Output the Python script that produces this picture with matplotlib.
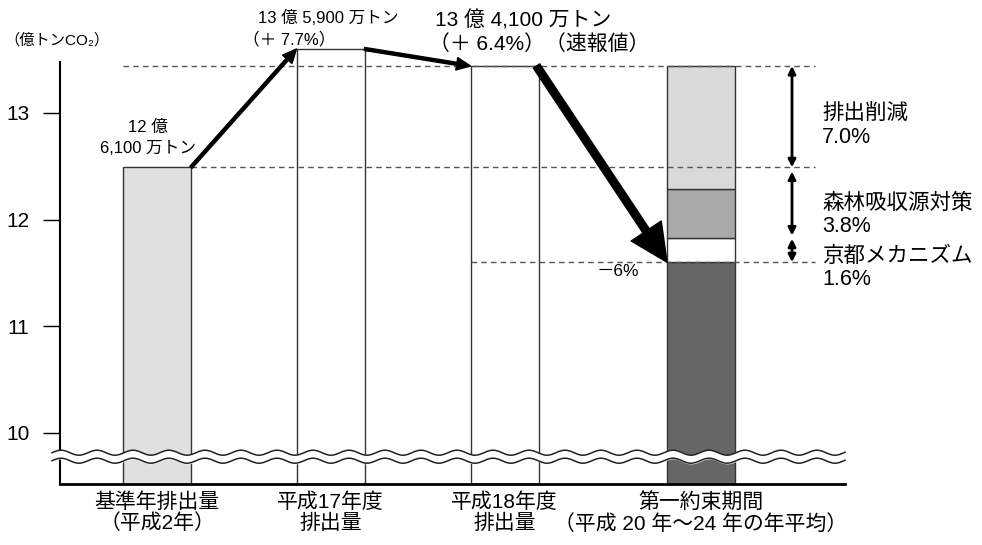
import numpy as np
import matplotlib
matplotlib.use('Agg')
import matplotlib.pyplot as plt

# Latin glyphs from Liberation Sans, Japanese from Noto Sans CJK
plt.rcParams['font.family'] = ['Liberation Sans', 'Noto Sans CJK JP', 'DejaVu Sans']

# data (億トンCO2, as drawn in the schematic)
categories = ['基準年排出量\n（平成2年）', '平成17年度\n排出量', '平成18年度\n排出量',
              '第一約束期間\n（平成 20 年～24 年の年平均）']
emissions = [12.49, 13.60, 13.44]
bar_colors = ['#e0e0e0', 'white', 'white']
# stacked target bar: 目標 / 京都メカニズム / 森林吸収源対策 / 排出削減
target_segments = [11.60, 0.23, 0.46, 1.15]
target_colors = ['#666666', 'white', '#a9a9a9', '#d9d9d9']
segment_labels = [None, '京都メカニズム\n1.6%', '森林吸収源対策\n3.8%', '排出削減\n7.0%']
yticks = [10, 11, 12, 13]

# layout (x in pixels of the 982 px wide figure)
bar_x = [157, 330.5, 504.5, 701]
bar_w = 68
y_floor = 9.52


def py2v(py):
    # figure pixel row -> value on y axis
    return 13 - (py - 113) / 106.7


fig = plt.figure(figsize=(9.82, 5.45), dpi=100)
ax = fig.add_axes([60 / 982, 61 / 545, 785 / 982, 484 / 545])
ax.set_xlim(60, 845)
ax.set_ylim(y_floor, py2v(0))

# bars
for x, v, c in zip(bar_x[:3], emissions, bar_colors):
    ax.bar(x, v - y_floor, bottom=y_floor, width=bar_w, color=c,
           edgecolor='#333333', linewidth=1, zorder=2)
bottom = y_floor
for seg, c in zip(target_segments, target_colors):
    top = target_segments[0] if bottom == y_floor else bottom + seg
    ax.bar(bar_x[3], top - bottom, bottom=bottom, width=bar_w, color=c,
           edgecolor='#333333', linewidth=1, zorder=2)
    bottom = top
seg_tops = np.cumsum(target_segments)

# dashed guide lines
dash = dict(color='#555555', linestyle=(0, (4, 3)), linewidth=1, zorder=3)
ax.plot([bar_x[0] - bar_w / 2, 815], [emissions[2]] * 2, **dash)
ax.plot([bar_x[0] + bar_w / 2, 815], [emissions[0]] * 2, **dash)
ax.plot([bar_x[2] - bar_w / 2, 815], [seg_tops[0]] * 2, **dash)

# arrows between bars
thin = dict(facecolor='black', edgecolor='black', width=2.2, headwidth=9,
            headlength=10, shrink=0)
ax.annotate('', xy=(bar_x[1] - bar_w / 2, emissions[1]),
            xytext=(bar_x[0] + bar_w / 2, emissions[0]), arrowprops=thin, zorder=5)
ax.annotate('', xy=(bar_x[2] - bar_w / 2, emissions[2]),
            xytext=(bar_x[1] + bar_w / 2, emissions[1]), arrowprops=thin, zorder=5)
ax.annotate('', xy=(bar_x[3] - bar_w / 2, seg_tops[0]),
            xytext=(bar_x[2] + bar_w / 2 - 2, emissions[2]),
            arrowprops=dict(facecolor='black', edgecolor='black', width=5.5,
                            headwidth=26, headlength=27, shrink=0), zorder=5)

# double arrows for the breakdown
spans = [(seg_tops[3], emissions[0]), (emissions[0] - 0.04, seg_tops[1] + 0.02),
         (seg_tops[1] - 0.01, seg_tops[0])]
for a, b in spans:
    ax.annotate('', xy=(792, b), xytext=(792, a),
                arrowprops=dict(arrowstyle='<|-|>', color='black', lw=2,
                                mutation_scale=11, shrinkA=0, shrinkB=0), zorder=5)

# right side labels
for lab, py in zip(segment_labels[1:], [268, 215, 126]):
    ax.text(822, py2v(py), lab, fontsize=15.5, ha='left', va='center',
            linespacing=1.15)

# value annotations
ax.text(148, py2v(127), '12 億', fontsize=12, ha='center', va='center')
ax.text(148, py2v(149), '6,100 万トン', fontsize=12, ha='center', va='center')
ax.text(258, py2v(18), '13 億 5,900 万トン', fontsize=12, ha='left', va='center')
ax.text(243, py2v(40), '（＋ 7.7%）', fontsize=12, ha='left', va='center')
ax.text(435, py2v(20), '13 億 4,100 万トン', fontsize=15, ha='left', va='center')
ax.text(429, py2v(44), '（＋ 6.4%）（速報値）', fontsize=15, ha='left', va='center')
ax.text(597, py2v(272), '－6%', fontsize=12.5, ha='left', va='center')
fig.text(4 / 982, 1 - 40 / 545, '（億トンCO₂）', fontsize=11, ha='left', va='center')

# axis break (wavy band)
xw = np.linspace(52, 845, 600)
wave = 2.5 / 106.7 * np.sin(2 * np.pi * (xw - 52) / 36)
y_up = py2v(453) + wave
y_lo = py2v(461) + wave
ax.fill_between(xw, y_lo, y_up, color='white', zorder=6, clip_on=False)
ax.plot(xw, y_up, color='#222222', lw=1.1, zorder=7, clip_on=False)
ax.plot(xw, y_lo, color='#222222', lw=1.1, zorder=7, clip_on=False)

# axes styling
for s in ['top', 'right']:
    ax.spines[s].set_visible(False)
ax.spines['left'].set_bounds(y_floor, 13.48)
ax.spines['left'].set_linewidth(1.5)
ax.spines['bottom'].set_linewidth(2)
ax.set_yticks(yticks)
ax.set_yticklabels([str(t) for t in yticks])
ax.tick_params(axis='y', length=12, width=1, labelsize=15, pad=10)
ax.set_xticks(bar_x)
ax.set_xticklabels(categories, fontsize=15, linespacing=1.1)
ax.tick_params(axis='x', length=0, pad=6)

fig.savefig('out.png', dpi=100)
